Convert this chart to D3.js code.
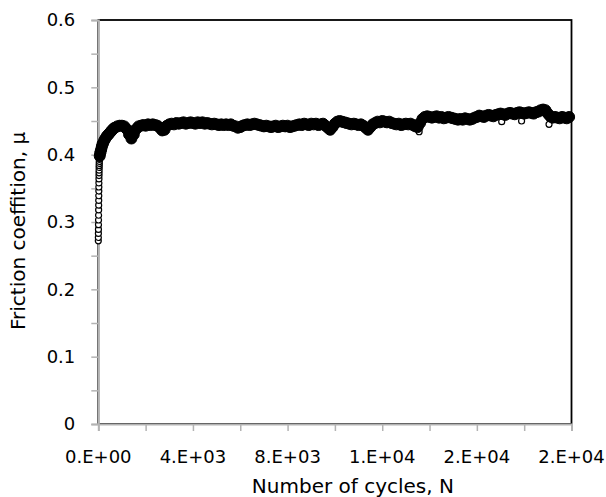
<!DOCTYPE html>
<html>
<head>
<meta charset="utf-8">
<script src="https://cdn.jsdelivr.net/npm/d3@7"></script>
<style>
  body { margin: 0; background: #fff; }
  text { font-family: "DejaVu Sans", sans-serif; fill: #000; }
</style>
</head>
<body>
<div id="chart"></div>
<script>
// run-in: first readings stacked at the very start of the test
var runInCycles = [0, 2, 4, 6, 8, 10, 12, 14, 16, 18, 20, 22, 24, 26, 28, 30, 32, 34, 36, 38, 40, 42, 44, 46, 48, 50];
var runInMu = [0.272, 0.277, 0.283, 0.289, 0.296, 0.303, 0.310, 0.318, 0.325, 0.332, 0.339, 0.346, 0.352,
               0.358, 0.364, 0.369, 0.373, 0.377, 0.381, 0.384, 0.387, 0.390, 0.393, 0.395, 0.397, 0.399];

// steep rise right after the run-in
var rampCycles = [60, 80, 100, 125, 150, 175, 200, 250, 300, 350, 400, 450, 500, 550, 600, 650];
var rampMu = [0.398, 0.402, 0.405, 0.408, 0.412, 0.415, 0.417, 0.421, 0.424, 0.427, 0.429, 0.431, 0.433, 0.435, 0.437, 0.439];

// main record, one reading every 100 cycles from 700 to 19800
var bandStart = 700, bandStep = 100;
var bandMu = [
                                     0.440, 0.442, 0.443, 0.443,
  0.442, 0.438, 0.430, 0.424, 0.430, 0.438, 0.442, 0.443, 0.444, 0.443,
  0.445, 0.444, 0.445, 0.444, 0.443, 0.440, 0.436, 0.437, 0.443, 0.445,
  0.446, 0.445, 0.447, 0.446, 0.447, 0.448, 0.446, 0.447, 0.448, 0.447,
  0.446, 0.448, 0.447, 0.448, 0.446, 0.447, 0.446, 0.445, 0.446, 0.445,
  0.444, 0.445, 0.444, 0.445, 0.444, 0.445, 0.443, 0.442, 0.440, 0.441,
  0.443, 0.444, 0.445, 0.444, 0.445, 0.446, 0.445, 0.444, 0.443, 0.442,
  0.443, 0.442, 0.441, 0.442, 0.443, 0.441, 0.442, 0.443, 0.442, 0.443,
  0.441, 0.442, 0.443, 0.444, 0.445, 0.444, 0.446, 0.445, 0.444, 0.446,
  0.445, 0.446, 0.444, 0.445, 0.446, 0.443, 0.440, 0.437, 0.441, 0.446,
  0.449, 0.450, 0.449, 0.448, 0.447, 0.446, 0.445, 0.446, 0.445, 0.444,
  0.445, 0.443, 0.440, 0.437, 0.441, 0.445, 0.447, 0.449, 0.448, 0.450,
  0.449, 0.448, 0.449, 0.447, 0.446, 0.445, 0.446, 0.444, 0.445, 0.446,
  0.445, 0.446, 0.444, 0.442, 0.441, 0.447, 0.453, 0.456, 0.457, 0.456,
  0.455, 0.456, 0.457, 0.455, 0.456, 0.454, 0.455, 0.456, 0.455, 0.454,
  0.453, 0.452, 0.453, 0.452, 0.454, 0.453, 0.452, 0.453, 0.455, 0.456,
  0.458, 0.457, 0.456, 0.458, 0.459, 0.458, 0.457, 0.459, 0.460, 0.461,
  0.460, 0.459, 0.461, 0.462, 0.461, 0.460, 0.462, 0.463, 0.462, 0.461,
  0.462, 0.463, 0.462, 0.461, 0.463, 0.464, 0.466, 0.467, 0.466, 0.461,
  0.457, 0.455, 0.456, 0.455, 0.454, 0.456, 0.455, 0.454, 0.456
];

// single readings that stick out below the band
var outlierCycles = [13560, 17050, 17890, 19050];
var outlierMu = [0.434, 0.449, 0.450, 0.445];

var xTicks = [0, 2000, 4000, 6000, 8000, 10000, 12000, 14000, 16000, 18000, 20000];
var xLabelValues = [0, 4000, 8000, 12000, 16000, 20000];
var xLabels = ["0.E+00", "4.E+03", "8.E+03", "1.E+04", "2.E+04", "2.E+04"];
var yTicks = [0, 0.05, 0.1, 0.15, 0.2, 0.25, 0.3, 0.35, 0.4, 0.45, 0.5, 0.55, 0.6];
var yLabelValues = [0, 0.1, 0.2, 0.3, 0.4, 0.5, 0.6];
var yLabels = ["0", "0.1", "0.2", "0.3", "0.4", "0.5", "0.6"];

var margin = {top: 20, right: 34.5, bottom: 73, left: 98.3},
    width = 606 - margin.left - margin.right,
    height = 497 - margin.top - margin.bottom;

var svg = d3.select("#chart")
    .append("svg")
    .attr("width", 606)
    .attr("height", 497)
    .append("g")
    .attr("transform", "translate(" + margin.left + "," + margin.top + ")");

var x = d3.scaleLinear().domain([0, 20000]).range([0, width]);
var y = d3.scaleLinear().domain([0, 0.6]).range([height, 0]);

// plot area border (top and right stay black)
svg.append("rect")
    .attr("width", width)
    .attr("height", height)
    .attr("fill", "none")
    .attr("stroke", "#000")
    .attr("stroke-width", 1.8);

// axes
var xAxis = svg.append("g")
    .attr("transform", "translate(0," + height + ")")
    .call(d3.axisBottom(x).tickValues(xTicks).tickSize(7).tickFormat(""));
var yAxis = svg.append("g")
    .call(d3.axisLeft(y).tickValues(yTicks).tickSize(7).tickFormat(""));

[xAxis, yAxis].forEach(function(a) {
    a.select(".domain").attr("stroke", "#b3b3b3").attr("stroke-width", 2);
    a.selectAll(".tick line").attr("stroke", "#b3b3b3").attr("stroke-width", 1.5);
});

var ramp = rampMu.map(function(m, i) { return {n: rampCycles[i], mu: m}; });
var band = ramp.concat(bandMu.map(function(m, i) { return {n: bandStart + i * bandStep, mu: m}; }));
var runIn = runInMu.map(function(m, i) { return {n: runInCycles[i], mu: m}; });
var outliers = outlierMu.map(function(m, i) { return {n: outlierCycles[i], mu: m}; });

svg.append("g").selectAll("circle")
    .data(outliers.concat(runIn))
    .join("circle")
    .attr("cx", function(d) { return x(d.n); })
    .attr("cy", function(d) { return y(d.mu); })
    .attr("r", 3)
    .attr("fill", "#fff")
    .attr("stroke", "#000")
    .attr("stroke-width", 1.2);

svg.append("g").selectAll("circle")
    .data(band)
    .join("circle")
    .attr("cx", function(d) { return x(d.n); })
    .attr("cy", function(d) { return y(d.mu); })
    .attr("r", 5.5)
    .attr("fill", "#000")
    .attr("stroke", "#000")
    .attr("stroke-width", 1);

svg.append("g").selectAll("text")
    .data(xLabelValues)
    .join("text")
    .attr("x", function(d) { return x(d); })
    .attr("y", height + 39)
    .attr("text-anchor", "middle")
    .style("font-size", "18px")
    .text(function(d, i) { return xLabels[i]; });

svg.append("g").selectAll("text")
    .data(yLabelValues)
    .join("text")
    .attr("x", -23)
    .attr("y", function(d) { return y(d); })
    .attr("dy", "0.36em")
    .attr("text-anchor", "end")
    .style("font-size", "18px")
    .text(function(d, i) { return yLabels[i]; });

svg.append("text")
    .attr("x", width / 2 + 18)
    .attr("y", height + 69)
    .attr("text-anchor", "middle")
    .style("font-size", "20px")
    .text("Number of cycles, N");

svg.append("text")
    .attr("transform", "translate(" + (25 - margin.left) + "," + (330 - margin.top) + ") rotate(-90)")
    .attr("text-anchor", "start")
    .style("font-size", "20px")
    .text("Friction coeffition, μ");
</script>
</body>
</html>
